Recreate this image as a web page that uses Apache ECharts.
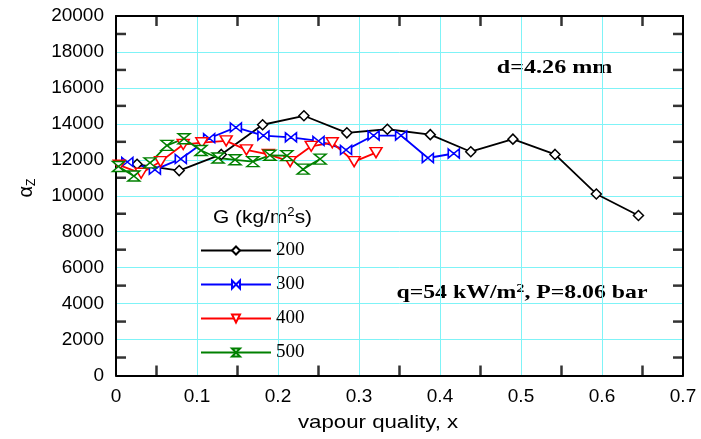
<!DOCTYPE html>
<html>
<head>
<meta charset="utf-8">
<script src="https://cdn.jsdelivr.net/npm/echarts@6/dist/echarts.min.js"></script>
<style>
  html, body { margin: 0; background: #fff; }
  #chart { width: 701px; height: 439px; }
</style>
</head>
<body>
<div id="chart"></div>
<script>
// G = 200
const x200 = [0.026, 0.078, 0.130, 0.181, 0.232, 0.285, 0.335, 0.388, 0.438, 0.490, 0.542, 0.593, 0.645];
const y200 = [11750, 11400, 12300, 13950, 14450, 13500, 13700, 13400, 12450, 13150, 12300, 10100, 8900];
// G = 300
const x300 = [0.014, 0.048, 0.080, 0.115, 0.148, 0.182, 0.216, 0.250, 0.284, 0.318, 0.352, 0.385, 0.417];
const y300 = [11880, 11450, 12050, 13200, 13800, 13350, 13250, 13050, 12550, 13350, 13350, 12100, 12350];
// G = 400
const x400 = [0.004, 0.031, 0.055, 0.083, 0.106, 0.136, 0.161, 0.188, 0.215, 0.241, 0.267, 0.294, 0.321];
const y400 = [11700, 11250, 11900, 12850, 12950, 13050, 12550, 12300, 11900, 12750, 12950, 11900, 12400];
// G = 500
const x500 = [0.003, 0.022, 0.042, 0.063, 0.084, 0.105, 0.126, 0.147, 0.169, 0.190, 0.211, 0.231, 0.252];
const y500 = [11630, 11100, 11830, 12800, 13170, 12520, 12100, 12000, 11900, 12250, 12230, 11480, 12040];

const seriesNames = ['200', '300', '400', '500'];

// the small black ticks sit half way between the grid lines
const xHalfTicks = [0.05, 0.15, 0.25, 0.35, 0.45, 0.55, 0.65];
const yHalfTicks = [1000, 3000, 5000, 7000, 9000, 11000, 13000, 15000, 17000, 19000];

const gridColor = '#7ff3f7';

function lineSeries(name, xs, ys, color, symbol, size) {
  return {
    name: name,
    type: 'line',
    data: xs.map(function (x, i) { return [x, ys[i]]; }),
    symbol: symbol,
    symbolSize: size,
    showAllSymbol: true,
    lineStyle: { color: color, width: 1.8 },
    itemStyle: { color: '#fff', borderColor: color, borderWidth: 1.5 },
    emphasis: { disabled: true },
    z: 3
  };
}

function tickSeries(data, size, offset) {
  return {
    type: 'scatter',
    data: data,
    symbol: 'rect',
    symbolSize: size,
    symbolOffset: offset,
    itemStyle: { color: '#000' },
    silent: true,
    clip: false,
    z: 4
  };
}

function frameAxis(pos, isX, main) {
  return {
    type: 'value',
    position: pos,
    min: 0,
    max: isX ? 0.7 : 20000,
    interval: isX ? 0.1 : 2000,
    axisLine: { show: true, onZero: false, lineStyle: { color: '#000', width: 2 } },
    axisTick: { show: false },
    splitLine: { show: main, lineStyle: { color: gridColor, width: 1 } },
    axisLabel: {
      show: main, color: '#000', fontSize: 19,
      fontFamily: 'Liberation Sans', margin: 12,
      formatter: function (v) { return String(v); }
    }
  };
}

const chart = echarts.init(document.getElementById('chart'));
chart.setOption({
  animation: false,
  grid: { left: 116, right: 18, top: 16, bottom: 63.5 },
  xAxis: [frameAxis('bottom', true, true), frameAxis('top', true, false)],
  yAxis: [frameAxis('left', false, true), frameAxis('right', false, false)],
  legend: {
    orient: 'vertical',
    left: 200,
    top: 241,
    padding: 0,
    itemWidth: 70,
    itemHeight: 10,
    itemGap: 15,
    selectedMode: false,
    data: seriesNames,
    textStyle: { fontFamily: 'Liberation Serif', fontSize: 19, color: '#000' }
  },
  graphic: [
    {
      type: 'text', x: 26, y: 188, rotation: Math.PI / 2,
      style: {
        text: '{a|α}{s|Z}', align: 'center', verticalAlign: 'middle',
        rich: {
          a: { fontFamily: 'Liberation Sans', fontSize: 20, lineHeight: 24, fill: '#000' },
          s: { fontFamily: 'Liberation Sans', fontSize: 12, lineHeight: 12, verticalAlign: 'bottom', fill: '#000' }
        }
      }
    },
    {
      type: 'text', x: 298, y: 423, scaleX: 1.17,
      style: { text: 'vapour quality, x', font: '19px "Liberation Sans"', fill: '#000', align: 'left', verticalAlign: 'middle' }
    },
    {
      type: 'text', x: 213, y: 218, scaleX: 1.1,
      style: {
        text: '{n|G (kg/m}{p|2}{n|s)}', align: 'left', verticalAlign: 'middle',
        rich: {
          n: { fontFamily: 'Liberation Sans', fontSize: 19, lineHeight: 22, fill: '#000' },
          p: { fontFamily: 'Liberation Sans', fontSize: 12, lineHeight: 12, verticalAlign: 'top', fill: '#000' }
        }
      }
    },
    {
      type: 'text', x: 493, y: 68, scaleX: 1.27,
      style: {
        text: 'd=4.26 mm', font: 'bold 19px "Liberation Serif"', fill: '#000',
        align: 'left', verticalAlign: 'middle', backgroundColor: '#fff', padding: [5, 3]
      }
    },
    {
      type: 'text', x: 394, y: 293, scaleX: 1.25,
      style: {
        text: '{n|q=54 kW/m}{p|2}{n|, P=8.06 bar}', align: 'left', verticalAlign: 'middle',
        backgroundColor: '#fff', padding: [4, 2],
        rich: {
          n: { fontFamily: 'Liberation Serif', fontWeight: 'bold', fontSize: 19, lineHeight: 22, fill: '#000' },
          p: { fontFamily: 'Liberation Serif', fontWeight: 'bold', fontSize: 13, lineHeight: 13, verticalAlign: 'top', fill: '#000' }
        }
      }
    }
  ],
  series: [
    lineSeries('200', x200, y200, '#000000', 'diamond', 10),
    lineSeries('300', x300, y300, '#0000ff', 'path://M0,0L10,5L0,10Z M20,0L10,5L20,10Z', [11, 9]),
    lineSeries('400', x400, y400, '#ff0000', 'path://M0,0L20,0L10,17Z', [12, 10]),
    lineSeries('500', x500, y500, '#008000', 'path://M0,0L10,0L5,5Z M0,10L10,10L5,5Z', [12, 10]),
    tickSeries(xHalfTicks.map(function (x) { return [x, 0]; }), [2.5, 10], [0, -5]),
    tickSeries(xHalfTicks.map(function (x) { return [x, 20000]; }), [2.5, 10], [0, 5]),
    tickSeries(yHalfTicks.map(function (y) { return [0, y]; }), [10, 2.5], [5, 0]),
    tickSeries(yHalfTicks.map(function (y) { return [0.7, y]; }), [10, 2.5], [-5, 0])
  ]
});
</script>
</body>
</html>
